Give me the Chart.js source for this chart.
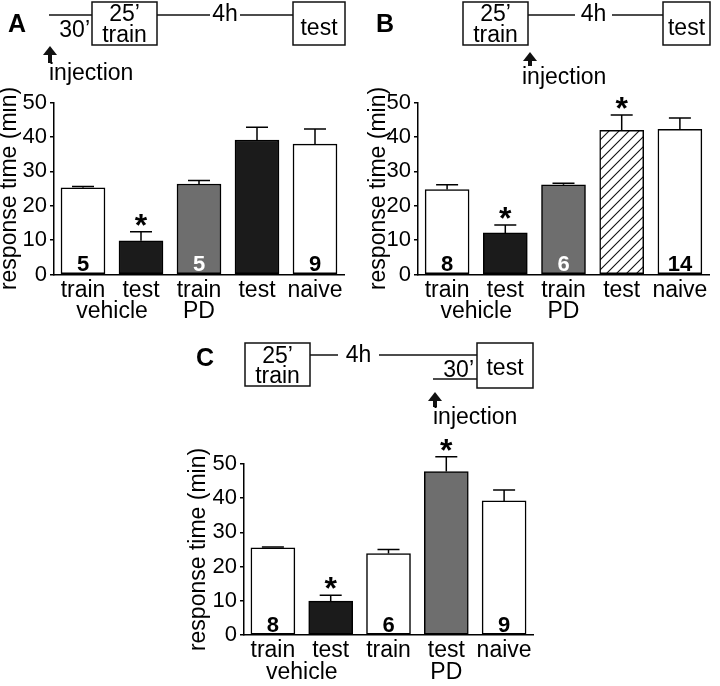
<!DOCTYPE html>
<html><head><meta charset="utf-8">
<script src="https://cdn.jsdelivr.net/npm/chart.js@4.4.0/dist/chart.umd.min.js"></script>
<style>
html,body{margin:0;padding:0;background:#fff;}
#wrap{position:relative;width:720px;height:686px;overflow:hidden;background:#fff;}
canvas{position:absolute;}
svg{position:absolute;left:0;top:0;}
</style></head><body>
<div id="wrap">
<canvas id="cA" width="360" height="260" style="left:0px;top:80px;width:360px;height:260px"></canvas>
<canvas id="cB" width="360" height="260" style="left:360px;top:80px;width:360px;height:260px"></canvas>
<canvas id="cC" width="360" height="266" style="left:180px;top:420px;width:360px;height:266px"></canvas>
<svg width="720" height="686" font-family="Liberation Sans, Arial, sans-serif" font-size="23" fill="#000">
 <g stroke="#111" stroke-width="1.5" fill="none">
  <line x1="49" y1="15" x2="92" y2="15"/>
  <rect x="92" y="2" width="65" height="43"/>
  <line x1="157" y1="15" x2="210" y2="15"/>
  <line x1="240" y1="15" x2="293" y2="15"/>
  <rect x="293" y="2" width="52" height="43"/>
  <rect x="463" y="2" width="65" height="43"/>
  <line x1="528" y1="15" x2="575" y2="15"/>
  <line x1="612" y1="15" x2="663" y2="15"/>
  <rect x="663" y="2" width="47" height="43"/>
  <rect x="245" y="343" width="65" height="43"/>
  <line x1="310" y1="355" x2="338" y2="355"/>
  <line x1="379" y1="355" x2="477" y2="355"/>
  <rect x="477" y="343" width="56" height="45"/>
  <line x1="433" y1="379" x2="477" y2="379"/>
 </g>
 <g fill="#111" stroke="none">
  <polygon points="43,55 50,46 57,55"/><rect x="48" y="54" width="4" height="9"/>
  <polygon points="523,61 530,52 537,61"/><rect x="528" y="60" width="4" height="6"/>
  <polygon points="428,401 435,392 442,401"/><rect x="433" y="400" width="4" height="7"/>
 </g>
 <text x="8" y="32" font-weight="bold" font-size="25">A</text>
 <text x="90" y="37" text-anchor="end">30’</text>
 <text x="124.5" y="20.5" text-anchor="middle">25’</text>
 <text x="124.5" y="42" text-anchor="middle">train</text>
 <text x="225" y="21" text-anchor="middle">4h</text>
 <text x="319" y="35" text-anchor="middle">test</text>
 <text x="49" y="80">injection</text>

 <text x="376" y="32" font-weight="bold" font-size="25">B</text>
 <text x="495.5" y="20.5" text-anchor="middle">25’</text>
 <text x="495.5" y="42" text-anchor="middle">train</text>
 <text x="593.5" y="21" text-anchor="middle">4h</text>
 <text x="686.5" y="35" text-anchor="middle">test</text>
 <text x="522" y="84">injection</text>

 <text x="196" y="366" font-weight="bold" font-size="25">C</text>
 <text x="277.5" y="363" text-anchor="middle">25’</text>
 <text x="277.5" y="383" text-anchor="middle">train</text>
 <text x="358.5" y="362" text-anchor="middle">4h</text>
 <text x="505" y="375" text-anchor="middle">test</text>
 <text x="474" y="377" text-anchor="end">30’</text>
 <text x="433" y="424">injection</text>
</svg>
</div>
<script>
// ---- data ----
const categories = ['train', 'test', 'train', 'test', 'naive'];
const yTicks = [0, 10, 20, 30, 40, 50];
const yTitle = 'response time (min)';

const valuesA = [25.2, 9.8, 26.3, 39.1, 37.9];
const errorsA = [0.4, 2.6, 1.0, 3.7, 4.4];
const countsA = ['5', '', '5', '', '9'];
const starsA  = [false, true, false, false, false];
const groupsA = [{label: 'vehicle', from: 0, to: 1}, {label: 'PD', from: 2, to: 2}];

const valuesB = [24.7, 12.1, 26.1, 41.9, 42.2];
const errorsB = [1.4, 2.3, 0.4, 4.5, 3.3];
const countsB = ['8', '', '6', '', '14'];
const starsB  = [false, true, false, true, false];
const groupsB = [{label: 'vehicle', from: 0, to: 1}, {label: 'PD', from: 2, to: 2}];

const valuesC = [25.5, 9.9, 23.8, 47.8, 39.2];
const errorsC = [0.2, 1.7, 1.2, 4.3, 3.2];
const countsC = ['8', '', '6', '', '9'];
const starsC  = [false, true, false, true, false];
const groupsC = [{label: 'vehicle', from: 0, to: 1}, {label: 'PD', from: 3, to: 3}];

// ---- styles ----
const fillsA = ['white', 'black', 'gray', 'black', 'white'];
const fillsB = ['white', 'black', 'gray', 'hatch', 'white'];
const fillsC = ['white', 'black', 'white', 'gray', 'white'];

const FONT = '"Liberation Sans", Arial, Helvetica, sans-serif';
Chart.defaults.font.family = FONT;
Chart.defaults.color = '#000';

function hatchPattern(ctx) {
  const c = document.createElement('canvas'); c.width = 10; c.height = 10;
  const g = c.getContext('2d');
  g.fillStyle = '#fff'; g.fillRect(0, 0, 10, 10);
  g.strokeStyle = '#111'; g.lineWidth = 1.1;
  g.beginPath();
  g.moveTo(-2, 2); g.lineTo(2, -2);
  g.moveTo(-1, 11); g.lineTo(11, -1);
  g.moveTo(8, 12); g.lineTo(12, 8);
  g.stroke();
  return ctx.createPattern(c, 'repeat');
}
function fillColor(kind, ctx) {
  if (kind === 'hatch') return hatchPattern(ctx);
  return {white: '#ffffff', black: '#1b1b1b', gray: '#6e6e6e'}[kind];
}

const extras = {
  id: 'extras',
  afterDatasetsDraw(chart, args, o) {
    const ctx = chart.ctx, ys = chart.scales.y, xs = chart.scales.x;
    const meta = chart.getDatasetMeta(0);
    const vals = chart.data.datasets[0].data;
    const y0 = ys.getPixelForValue(0);
    ctx.save();
    meta.data.forEach((bar, i) => {
      const top = ys.getPixelForValue(vals[i] + o.errors[i]);
      ctx.strokeStyle = '#000'; ctx.lineWidth = 1.5;
      ctx.beginPath();
      ctx.moveTo(bar.x, bar.y); ctx.lineTo(bar.x, top);
      ctx.moveTo(bar.x - 11, top); ctx.lineTo(bar.x + 11, top);
      ctx.stroke();
      if (o.stars[i]) {
        ctx.font = 'bold 32px ' + FONT;
        ctx.textAlign = 'center'; ctx.textBaseline = 'alphabetic';
        const m = ctx.measureText('*');
        const cy = top - 12;
        ctx.fillStyle = '#000';
        ctx.fillText('*', bar.x, cy + (m.actualBoundingBoxAscent - m.actualBoundingBoxDescent) / 2);
      }
      if (o.counts[i]) {
        ctx.font = 'bold 22px ' + FONT;
        ctx.textAlign = 'center'; ctx.textBaseline = 'alphabetic';
        ctx.fillStyle = o.fills[i] === 'gray' ? '#fff' : '#000';
        ctx.fillText(o.counts[i], bar.x, y0 - 3.5);
      }
    });
    ctx.font = '23px ' + FONT;
    ctx.textAlign = 'center'; ctx.textBaseline = 'alphabetic'; ctx.fillStyle = '#000';
    o.groups.forEach(g => {
      const x = (xs.getPixelForValue(g.from) + xs.getPixelForValue(g.to)) / 2;
      ctx.fillText(g.label, x, y0 + 43.5);
    });
    ctx.restore();
  }
};

function build(id, values, errors, counts, stars, groups, fills, target, titleX) {
  const canvas = document.getElementById(id);
  const ctx = canvas.getContext('2d');
  const pad = {top: 0, right: 0, bottom: 0, left: 0};
  const chart = new Chart(canvas, {
    type: 'bar',
    data: {
      labels: categories,
      datasets: [{
        data: values,
        backgroundColor: fills.map(f => fillColor(f, ctx)),
        borderColor: '#000',
        borderWidth: 1.5,
        borderSkipped: false,
        barThickness: 44
      }]
    },
    options: {
      responsive: false,
      animation: false,
      layout: {padding: pad},
      plugins: {
        legend: {display: false},
        tooltip: {enabled: false},
        extras: {errors, counts, stars, groups, fills}
      },
      scales: {
        x: {
          z: 1,
          grid: {display: false, drawTicks: false, tickLength: 0},
          border: {display: true, color: '#000', width: 1.5},
          ticks: {font: {size: 23}, padding: 2, color: '#000', maxRotation: 0, autoSkip: false}
        },
        y: {
          min: yTicks[0], max: yTicks[yTicks.length - 1],
          ticks: {stepSize: yTicks[1] - yTicks[0], font: {size: 22}, padding: 3, color: '#000'},
          grid: {display: true, drawOnChartArea: false, drawTicks: true, tickLength: 4, color: '#000', lineWidth: 1.5},
          border: {display: true, color: '#000', width: 1.5},
          title: {display: true, text: yTitle, color: '#000', font: {size: 23, lineHeight: 1}, padding: {top: titleX - 11.5, bottom: 0}},
          afterFit: s => { s.width = target.left; }
        }
      }
    },
    plugins: [extras]
  });
  for (let k = 0; k < 4; k++) {
    const a = chart.chartArea;
    const dT = target.top - a.top, dB = a.bottom - target.bottom, dR = a.right - target.right, dL = target.left - a.left;
    if (Math.abs(dT) + Math.abs(dB) + Math.abs(dR) + Math.abs(dL) < 0.05) break;
    pad.top += dT; pad.bottom += dB; pad.right += dR; pad.left += dL;
    chart.options.layout.padding = {top: pad.top, right: pad.right, bottom: pad.bottom, left: pad.left};
    chart.update('none');
  }
  return chart;
}

build('cA', valuesA, errorsA, countsA, starsA, groupsA, fillsA, {left: 54, right: 344, top: 22.5, bottom: 194.5}, 10);
build('cB', valuesB, errorsB, countsB, starsB, groupsB, fillsB, {left: 58, right: 349, top: 22.5, bottom: 194.5}, 19);
build('cC', valuesC, errorsC, countsC, starsC, groupsC, fillsC, {left: 64, right: 353, top: 44, bottom: 215}, 19);
</script>
</body></html>
